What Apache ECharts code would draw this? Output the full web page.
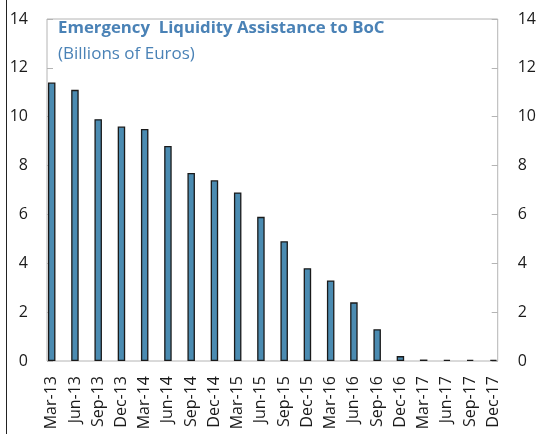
<!DOCTYPE html>
<html><head><meta charset="utf-8">
<script src="https://cdn.jsdelivr.net/npm/echarts@6/dist/echarts.min.js"></script>
<style>html,body{margin:0;padding:0;background:#fff}#c{width:539px;height:434px}</style>
</head><body><div id="c"></div>
<script>
const categories = ['Mar-13','Jun-13','Sep-13','Dec-13','Mar-14','Jun-14','Sep-14','Dec-14','Mar-15','Jun-15','Sep-15','Dec-15','Mar-16','Jun-16','Sep-16','Dec-16','Mar-17','Jun-17','Sep-17','Dec-17'];
const elaValues = [11.4, 11.1, 9.9, 9.6, 9.5, 8.8, 7.7, 7.4, 6.9, 5.9, 4.9, 3.8, 3.3, 2.4, 1.3, 0.2, 0.06, 0.05, 0.05, 0.05];
const yTicks = [0, 2, 4, 6, 8, 10, 12, 14];
const titleText = 'Emergency  Liquidity Assistance to BoC';
const subtitleText = '(Billions of Euros)';

const FONT = '"Open Sans", "Noto Sans", sans-serif';
const chart = echarts.init(document.getElementById('c'), null, {renderer: 'canvas'});
chart.setOption({
  animation: false,
  title: {
    text: titleText, subtext: subtitleText, left: 58, top: 19, itemGap: 7, padding: 0,
    textStyle: {fontFamily: FONT, fontSize: 16.8, fontWeight: 'bold', color: '#4a82b6', lineHeight: 19},
    subtextStyle: {fontFamily: FONT, fontSize: 17, color: '#4a82b6', lineHeight: 19}
  },
  grid: [
    {left: 47, right: 41, top: 19, bottom: 73, show: true, borderColor: '#b4b4b4', borderWidth: 1, backgroundColor: 'transparent'},
    {left: 51.7, right: 45.6, top: 19, bottom: 73}
  ],
  xAxis: [
    {gridIndex: 0, type: 'category', show: false, data: categories},
    {gridIndex: 1, type: 'category', data: categories, boundaryGap: false,
     axisLine: {show: false}, axisTick: {show: false},
     axisLabel: {rotate: 90, margin: 15, fontFamily: FONT, fontSize: 16, color: '#1a1a1a', interval: 0}}
  ],
  yAxis: [
    {gridIndex: 0, type: 'value', min: 0, max: 14, interval: 2, position: 'left',
     axisLine: {show: false}, splitLine: {show: false},
     axisTick: {show: true, inside: true, length: 6, lineStyle: {color: '#b4b4b4'}},
     axisLabel: {margin: 19, fontFamily: FONT, fontSize: 16, color: '#1a1a1a'}},
    {gridIndex: 0, type: 'value', min: 0, max: 14, interval: 2, position: 'right',
     axisLine: {show: false}, splitLine: {show: false},
     axisTick: {show: true, inside: true, length: 6, lineStyle: {color: '#b4b4b4'}},
     axisLabel: {margin: 20, fontFamily: FONT, fontSize: 16, color: '#1a1a1a'}},
    {gridIndex: 1, type: 'value', min: 0, max: 14, interval: 2, show: false}
  ],
  series: [{
    type: 'bar', xAxisIndex: 1, yAxisIndex: 2, data: elaValues, barWidth: 7.5,
    itemStyle: {color: '#4b8bb1', borderColor: '#1a1a1a', borderWidth: 1.3}
  }],
  graphic: [{type: 'line', shape: {x1: 6.5, y1: 0, x2: 6.5, y2: 434}, style: {stroke: '#222', lineWidth: 1}}]
});
</script></body></html>
